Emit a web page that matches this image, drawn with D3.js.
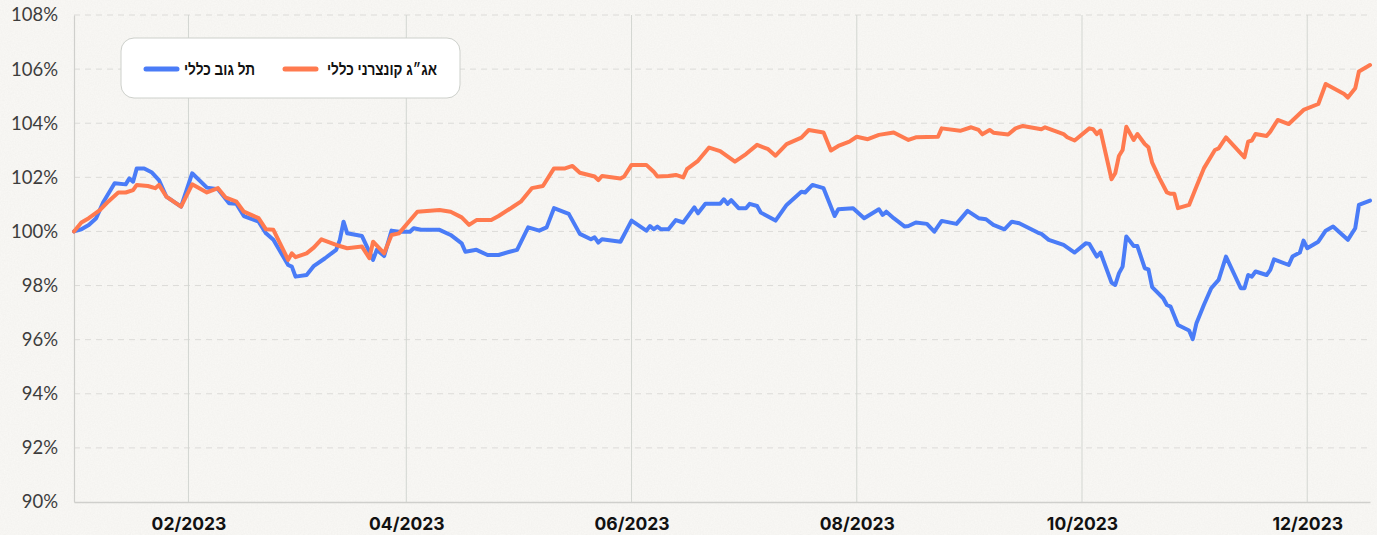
<!DOCTYPE html>
<html>
<head>
<meta charset="utf-8">
<script src="https://cdn.jsdelivr.net/npm/d3@7"></script>
<style>
  html, body { margin: 0; padding: 0; background: #f5f4f1; }
  svg { display: block; }
</style>
</head>
<body>
<div id="chart"></div>
<script>
// ---- data ----
const year = 2023;

const telGovDates = [
  "01-01","01-03","01-05","01-07","01-09","01-12","01-15","01-16","01-17","01-18","01-20","01-22","01-24","01-26","01-30",
  "02-02","02-06","02-09","02-12","02-14","02-16","02-20","02-22","02-24","02-28",
  "03-01","03-02","03-05","03-07","03-10","03-13","03-14","03-15","03-16","03-20","03-23","03-24","03-26","03-28","03-30",
  "04-02","04-03","04-05","04-10","04-13","04-16","04-17","04-20","04-23","04-26","04-29",
  "05-01","05-04","05-07","05-09","05-11","05-15","05-18","05-21","05-22","05-23","05-24","05-29",
  "06-01","06-05","06-06","06-07","06-08","06-09","06-11","06-13","06-15","06-18","06-19","06-21","06-25","06-26","06-27","06-28","06-30",
  "07-02","07-03","07-05","07-06","07-10","07-13","07-17","07-18","07-20","07-23","07-26","07-27","07-31",
  "08-03","08-07","08-08","08-09","08-11","08-14","08-15","08-17","08-20","08-22","08-24","08-28","08-31",
  "09-03","09-05","09-07","09-10","09-12","09-14","09-19","09-20","09-22","09-26","09-29",
  "10-02","10-03","10-05","10-06","10-09","10-10","10-11","10-12","10-13","10-15","10-16","10-18","10-19","10-20","10-23","10-24","10-25","10-27","10-30","10-31",
  "11-01","11-03","11-05","11-07","11-09","11-13","11-14","11-15","11-16","11-17","11-20","11-21","11-22","11-26","11-27","11-29","11-30",
  "12-01","12-04","12-06","12-08","12-12","12-14","12-15","12-18"
];
const telGovValues = [
  100.00,100.08,100.24,100.49,101.10,101.78,101.74,101.96,101.84,102.33,102.33,102.19,101.90,101.29,100.92,
  102.15,101.62,101.56,101.04,101.02,100.57,100.36,99.93,99.69,98.76,
  98.70,98.33,98.39,98.73,99.01,99.32,99.69,100.36,99.93,99.83,98.95,99.32,99.09,100.03,99.99,
  99.99,100.12,100.06,100.06,99.87,99.56,99.25,99.32,99.13,99.13,99.25,
  99.32,100.15,100.03,100.15,100.86,100.65,99.91,99.71,99.78,99.59,99.71,99.62,
  100.40,100.03,100.20,100.08,100.18,100.08,100.08,100.42,100.33,100.89,100.67,101.02,101.02,101.19,101.02,101.16,100.86,
  100.86,101.02,100.94,100.70,100.40,100.98,101.47,101.44,101.72,101.60,100.57,100.82,100.86,
  100.49,100.82,100.61,100.73,100.49,100.18,100.20,100.33,100.28,99.99,100.39,100.28,100.76,
  100.49,100.45,100.24,100.08,100.36,100.30,99.96,99.91,99.69,99.50,99.22,
  99.56,99.54,99.07,99.22,98.11,98.02,98.45,98.70,99.81,99.46,99.46,98.64,98.60,97.94,97.53,97.28,97.22,96.54,96.34,96.02,
  96.61,97.28,97.90,98.21,99.07,97.90,97.90,98.39,98.33,98.52,98.39,98.58,98.97,98.76,99.07,99.22,99.66,
  99.38,99.62,100.03,100.18,99.69,100.12,100.98,101.14
];

const corpDates = [
  "01-01","01-03","01-05","01-08","01-10","01-13","01-15","01-17","01-18","01-21","01-23","01-24","01-26","01-30",
  "02-02","02-06","02-09","02-11","02-14","02-16","02-20","02-22","02-24","02-28",
  "03-01","03-02","03-05","03-07","03-09","03-13","03-16","03-20","03-22","03-23","03-26","03-28","03-30",
  "04-04","04-10","04-13","04-16","04-18","04-20","04-24","04-26","04-30",
  "05-02","05-05","05-08","05-11","05-14","05-16","05-18","05-22","05-23","05-24","05-29","05-30",
  "06-01","06-05","06-07","06-08","06-11","06-13","06-15","06-16","06-19","06-22","06-25","06-29",
  "07-02","07-05","07-08","07-10","07-13","07-17","07-19","07-23","07-25","07-27","07-30",
  "08-01","08-04","08-07","08-11","08-15","08-17","08-23","08-24","08-29",
  "09-01","09-03","09-04","09-06","09-07","09-11","09-13","09-15","09-20","09-21","09-26","09-27","09-29",
  "10-03","10-04","10-05","10-06","10-09","10-10","10-11","10-12","10-13","10-15","10-16","10-18","10-19","10-20","10-22","10-24","10-25","10-26","10-27","10-30",
  "11-01","11-03","11-06","11-07","11-09","11-14","11-15","11-16","11-17","11-20","11-21","11-23","11-26","11-30",
  "12-04","12-06","12-11","12-12","12-14","12-15","12-18"
];
const corpValues = [
  100.00,100.33,100.49,100.79,101.07,101.44,101.44,101.53,101.72,101.68,101.60,101.72,101.29,100.92,
  101.74,101.44,101.60,101.26,101.10,100.73,100.49,100.08,100.06,98.95,
  99.19,99.05,99.19,99.41,99.71,99.50,99.38,99.44,99.01,99.62,99.19,99.87,99.93,
  100.73,100.79,100.73,100.52,100.24,100.42,100.42,100.57,100.92,
  101.10,101.60,101.68,102.33,102.33,102.42,102.17,102.03,101.90,102.05,101.96,102.03,
  102.46,102.46,102.21,102.03,102.05,102.09,102.00,102.30,102.61,103.10,102.97,102.58,
  102.86,103.20,103.04,102.80,103.23,103.47,103.75,103.66,102.99,103.16,103.32,
  103.50,103.41,103.57,103.66,103.38,103.48,103.50,103.81,103.72,
  103.85,103.75,103.59,103.75,103.65,103.58,103.81,103.90,103.78,103.85,103.60,103.48,103.36,
  103.81,103.78,103.60,103.73,101.93,102.15,102.79,103.01,103.87,103.38,103.60,103.23,103.11,102.54,101.96,101.44,101.39,101.39,100.86,100.98,
  101.66,102.33,103.01,103.07,103.48,102.74,103.32,103.36,103.60,103.53,103.69,104.12,103.97,104.49,
  104.71,105.45,105.08,104.95,105.29,105.91,106.15
];

const yTicks = [90, 92, 94, 96, 98, 100, 102, 104, 106, 108];
const xTicks = ["02-01", "04-01", "06-01", "08-01", "10-01", "12-01"];
const seriesNames = ["תל גוב כללי", "אג״ג קונצרני כללי"];
const seriesColors = ["#4a7cf7", "#ff7a4f"];

// ---- setup ----
const W = 1377, H = 535;
const parse = d3.timeParse("%Y-%m-%d");
const toDate = (s) => parse(`${year}-${s}`);

const x = d3.scaleTime()
  .domain([toDate("01-01"), toDate("12-18")])
  .range([74, 1370]);
const y = d3.scaleLinear().domain([90, 108]).range([502, 15]);

const svg = d3.select("#chart").append("svg")
  .attr("width", W).attr("height", H);

// paper-like background
const defs = svg.append("defs");
const paper = defs.append("filter").attr("id", "paper")
  .attr("x", 0).attr("y", 0).attr("width", "100%").attr("height", "100%");
paper.append("feTurbulence").attr("type", "fractalNoise")
  .attr("baseFrequency", "0.7").attr("numOctaves", 3).attr("seed", 4);
paper.append("feColorMatrix").attr("type", "matrix")
  .attr("values", "0 0 0 0 0.45  0 0 0 0 0.44  0 0 0 0 0.42  0.11 0 0 0 0");

svg.append("rect").attr("width", W).attr("height", H).attr("fill", "#faf9f6");
svg.append("rect").attr("width", W).attr("height", H).attr("filter", "url(#paper)");

// grid lines
svg.append("g").selectAll("line").data(yTicks.filter(v => v > 90)).join("line")
  .attr("x1", 74).attr("x2", 1370)
  .attr("y1", d => y(d)).attr("y2", d => y(d))
  .attr("stroke", "#dcdbd8").attr("stroke-width", 1).attr("stroke-dasharray", "6,5");

svg.append("g").selectAll("line").data(xTicks).join("line")
  .attr("x1", d => x(toDate(d))).attr("x2", d => x(toDate(d)))
  .attr("y1", y(108)).attr("y2", y(90))
  .attr("stroke", "#d3d6d1").attr("stroke-width", 1);

// axes
const yAxis = svg.append("g").attr("transform", "translate(74,0)")
  .call(d3.axisLeft(y).tickValues(yTicks).tickSize(0).tickPadding(16).tickFormat(d => d + "%"));
yAxis.select(".domain").attr("stroke", "#cfcfcc").attr("stroke-width", 1.2);
yAxis.selectAll("text")
  .attr("font-family", "Lato, 'Open Sans', sans-serif")
  .attr("font-size", 18.5).attr("fill", "#3d3d3d");

const xAxis = svg.append("g").attr("transform", `translate(0,${y(90)})`)
  .call(d3.axisBottom(x).tickValues(xTicks.map(toDate)).tickSize(0).tickPadding(16)
    .tickFormat(d3.timeFormat("%m/%Y")));
xAxis.select(".domain").attr("stroke", "#cfcfcc").attr("stroke-width", 1.5);
xAxis.selectAll("text")
  .attr("font-family", "Inter, 'DejaVu Sans', sans-serif")
  .attr("font-weight", 700).attr("font-size", 17.5).attr("fill", "#111");

// lines
const line = d3.line()
  .x(d => x(d.date)).y(d => y(d.value))
  .curve(d3.curveLinear);

const series = [
  telGovDates.map((s, i) => ({ date: toDate(s), value: telGovValues[i] })),
  corpDates.map((s, i) => ({ date: toDate(s), value: corpValues[i] }))
];

svg.append("g").selectAll("path").data(series).join("path")
  .attr("d", line)
  .attr("fill", "none")
  .attr("stroke", (d, i) => seriesColors[i])
  .attr("stroke-width", 4)
  .attr("stroke-linejoin", "round")
  .attr("stroke-linecap", "round");

// legend
const legend = svg.append("g");
legend.append("rect")
  .attr("x", 121).attr("y", 38).attr("width", 339).attr("height", 60).attr("rx", 13)
  .attr("fill", "#ffffff").attr("stroke", "#cdd0cb").attr("stroke-width", 1);

const legendItems = [
  { name: seriesNames[0], color: seriesColors[0], textEnd: 255, textLen: 71, swatch: 146 },
  { name: seriesNames[1], color: seriesColors[1], textEnd: 437, textLen: 110, swatch: 285 }
];
const li = legend.selectAll("g.item").data(legendItems).join("g").attr("class", "item");
li.append("line")
  .attr("x1", d => d.swatch).attr("x2", d => d.swatch + 31)
  .attr("y1", 69).attr("y2", 69)
  .attr("stroke", d => d.color).attr("stroke-width", 5).attr("stroke-linecap", "round");
li.append("text")
  .attr("x", d => d.textEnd).attr("y", 69).attr("dy", "0.36em")
  .attr("text-anchor", "end")
  .attr("font-family", "'Liberation Sans', 'DejaVu Sans', sans-serif")
  .attr("font-weight", 700).attr("font-size", 16).attr("fill", "#111")
  .attr("textLength", d => d.textLen).attr("lengthAdjust", "spacingAndGlyphs")
  .text(d => d.name);
</script>
</body>
</html>
